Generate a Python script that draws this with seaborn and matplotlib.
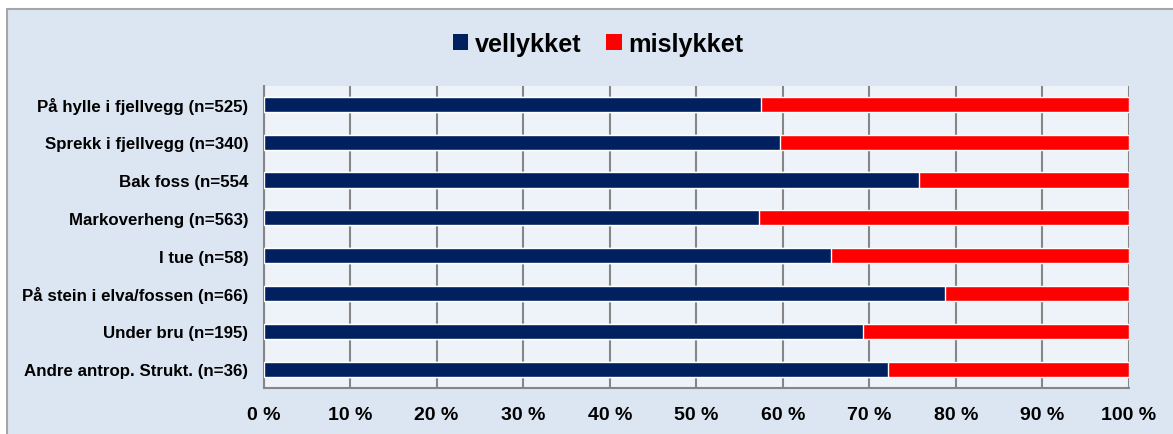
import pandas as pd
import seaborn as sns
import matplotlib.pyplot as plt
from matplotlib.patches import Rectangle, Patch

# data (percent)
categories = ["På hylle i fjellvegg (n=525)", "Sprekk i fjellvegg (n=340)", "Bak foss (n=554",
              "Markoverheng (n=563)", "I tue (n=58)", "På stein i elva/fossen (n=66)",
              "Under bru (n=195)", "Andre antrop. Strukt. (n=36)"]
vellykket = [57.5, 59.7, 75.7, 57.3, 65.6, 78.7, 69.3, 72.2]
mislykket = [100 - v for v in vellykket]

df = pd.DataFrame({"kat": categories, "vellykket": vellykket, "mislykket": mislykket})
df["total"] = df["vellykket"] + df["mislykket"]

navy = "#002060"
red = "#FF0000"

sns.set_style("white")
plt.rcParams["font.family"] = ["Liberation Sans", "DejaVu Sans"]
plt.rcParams["text.color"] = "black"
plt.rcParams["xtick.color"] = "black"
plt.rcParams["ytick.color"] = "black"

fig = plt.figure(figsize=(11.73, 4.35), dpi=100)
fig.patch.set_facecolor("white")
# outer chart area box
bg = Rectangle((7 / 1173, -0.05), 1.1, 1 - 10 / 435 + 0.05, transform=fig.transFigure,
               facecolor="#DCE6F2", edgecolor="#A6A6A6", linewidth=1.5, zorder=-5)
fig.patches.append(bg)

ax = fig.add_axes([263.5 / 1173, 46 / 435, 865.5 / 1173, 302.5 / 435])
ax.set_facecolor("#EEF3F9")

sns.barplot(data=df, y="kat", x="total", color=red, width=0.4, saturation=1, ax=ax, zorder=3)
sns.barplot(data=df, y="kat", x="vellykket", color=navy, width=0.4, saturation=1, ax=ax, zorder=3)

ax.set_xlim(0, 100)
ax.set_ylim(len(categories) - 0.5, -0.5)
ax.set_xticks(range(0, 101, 10))
ax.set_xticklabels([f"{t} %" for t in range(0, 101, 10)], fontsize=14, fontweight="bold")
ax.set_yticks(range(len(categories)))
ax.set_yticklabels(categories, fontsize=12.2, fontweight="bold")
ax.set_yticks([i - 0.5 for i in range(len(categories) + 1)], minor=True)
ax.tick_params(axis="y", which="major", length=0, pad=11, labelcolor="black")
ax.tick_params(axis="y", which="minor", length=5, color="#868686", width=1.5)
ax.tick_params(axis="x", which="major", length=5, color="#868686", width=1.5, pad=8, labelcolor="black")
ax.set_xlabel("")
ax.set_ylabel("")

ax.grid(axis="x", color="#868686", linewidth=1.5, zorder=1)
ax.set_axisbelow(True)
for s in ["top", "right"]:
    ax.spines[s].set_visible(False)
for s in ["left", "bottom"]:
    ax.spines[s].set_color("#868686")
    ax.spines[s].set_linewidth(1.5)

handles = [Patch(facecolor=navy, edgecolor="none", label="vellykket"),
           Patch(facecolor=red, edgecolor="none", label="mislykket")]
fig.legend(handles=handles, loc="center", bbox_to_anchor=(598 / 1173, 1 - 45 / 435), ncol=2, frameon=False,
           prop={"size": 18.2, "weight": "bold"}, handlelength=0.6, handleheight=0.6,
           handletextpad=0.25, columnspacing=1.0)

fig.savefig("out.png", dpi=100, facecolor=fig.get_facecolor())
